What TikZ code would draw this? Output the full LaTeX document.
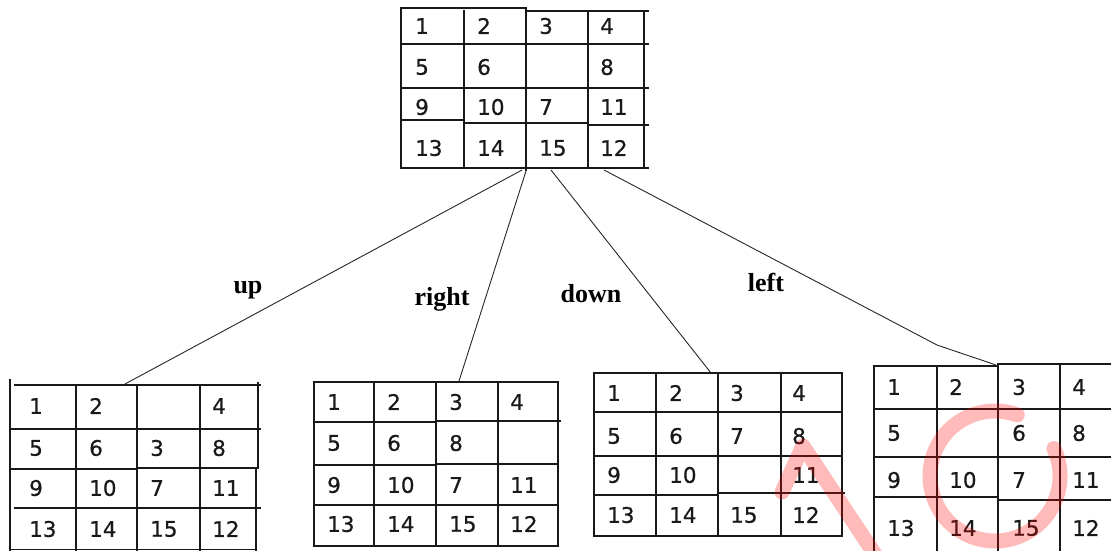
\documentclass[tikz,border=0pt]{standalone}
\usepackage{fontspec}
\newfontfamily\tilefont[FakeBold=0.7]{DejaVu Sans}
\newfontfamily\movefont{Liberation Serif}

% #1 board name, #2 text x per column, #3 row centres, #4 sixteen tiles (0 = blank)
\newcommand\puzzleboard[4]{%
  \foreach \t [count=\k from 0] in {#4} {
    \pgfmathtruncatemacro\c{mod(\k,4)}
    \pgfmathtruncatemacro\r{div(\k,4)}
    \pgfmathsetmacro\tx{{#2}[\c]}
    \pgfmathsetmacro\ty{{#3}[\r]}
    \ifnum\t>0 \node[tile] (#1-\k) at (\tx,\ty) {\t};\fi
  }}

\begin{document}
\begin{tikzpicture}[x=1pt,y=-1pt,
  gridline/.style={line width=1.9pt, black!90, line cap=rect},
  edge/.style={line width=0.9pt, black!85},
  tile/.style={anchor=west, inner sep=0pt, text=black!90,
               font=\tilefont\fontsize{21.5}{22}\selectfont},
  movelabel/.style={anchor=base, inner sep=0pt,
               font=\movefont\bfseries\fontsize{26}{26}\selectfont},
  stamp/.style={red, opacity=0.27, line width=15pt, line cap=round, line join=round}]
\useasboundingbox (0,0) rectangle (1111,550);

% ---- start state ----
\draw[gridline] (401,8) -- (526,8) (526,11) -- (648,11);
\draw[gridline] (401,8) -- (401,168) (464,11) -- (464,168) (526,8) -- (526,170)
                (588,11) -- (588,168) (644,11) -- (644,168);
\draw[gridline] (401,44) -- (648,44) (401,88) -- (648,88)
                (401,120) -- (464,120) (464,123) -- (586,123) (588,125) -- (648,125)
                (401,168) -- (648,168);
\puzzleboard{root}{415,477,539,600}{26,67,107,148}
  {1,2,3,4,5,6,0,8,9,10,7,11,13,14,15,12}

% ---- blank moved up ----
\draw[gridline] (10,380) -- (10,550) (76,385) -- (76,550) (137,385) -- (137,550)
                (200,385) -- (200,550) (258,383) -- (258,468) (256,468) -- (256,550);
\draw[gridline] (15,385) -- (260,385) (10,429) -- (260,429)
                (10,469) -- (137,469) (137,468) -- (258,468)
                (15,508) -- (260,508) (10,549.5) -- (256,549.5);
\puzzleboard{up}{29,89,150,212}{406,448,488,529}
  {1,2,0,4,5,6,3,8,9,10,7,11,13,14,15,12}

% ---- blank moved right ----
\draw[gridline] (314,382) -- (314,546) (374,382) -- (374,546) (436,382) -- (436,546)
                (498,382) -- (498,546) (558,382) -- (558,546);
\draw[gridline] (314,382) -- (558,382) (314,422) -- (436,422) (436,421) -- (560,421)
                (314,465) -- (436,465) (436,464) -- (558,464)
                (314,505) -- (558,505) (314,546) -- (558,546);
\puzzleboard{right}{327,387,449,510}{402,443,485,524}
  {1,2,3,4,5,6,8,0,9,10,7,11,13,14,15,12}

% ---- blank moved down ----
\draw[gridline] (594,373) -- (594,536) (656,373) -- (656,536) (718,373) -- (718,536)
                (781,373) -- (781,536) (842,373) -- (842,536);
\draw[gridline] (594,373) -- (842,373) (594,412) -- (842,412) (594,456) -- (842,456)
                (594,495) -- (718,495) (718,493) -- (844,493) (594,536) -- (842,536);
\puzzleboard{down}{607,669,730,792}{393,436,475,515}
  {1,2,3,4,5,6,7,8,9,10,0,11,13,14,15,12}

% ---- blank moved left ----
\draw[gridline] (874,366) -- (874,550) (937,366) -- (937,550) (998,364) -- (998,550)
                (1060,364) -- (1060,550);
\draw[gridline] (874,366) -- (998,366) (998,364) -- (1111,364)
                (874,409) -- (1111,409) (874,457) -- (1111,457)
                (874,497) -- (998,497) (998,500) -- (1111,500);
\puzzleboard{left}{887,949,1012,1072}{387,433,480,528}
  {1,2,3,4,5,0,6,8,9,10,7,11,13,14,15,12}

% ---- connectors ----
\coordinate (root-up)    at (522,170);
\coordinate (root-right) at (526,171);
\coordinate (root-down)  at (551,170);
\coordinate (root-left)  at (604,170);
\coordinate (up-top)     at (125,384);
\coordinate (right-top)  at (459,381);
\coordinate (down-top)   at (711,373);
\coordinate (left-bend)  at (937,345);
\coordinate (left-top)   at (996,365);
\draw[edge] (root-up) -- (up-top);
\draw[edge] (root-right) -- (right-top);
\draw[edge] (root-down) -- (down-top);
\draw[edge] (root-left) -- (left-bend) -- (left-top);

\node[movelabel] (lbl-up)    at (248,293) {up};
\node[movelabel] (lbl-right) at (442,305) {right};
\node[movelabel] (lbl-down)  at (591,302) {down};
\node[movelabel] (lbl-left)  at (766,291) {left};

% ---- stamp ----
\draw[stamp] (782,492) -- (803,446) -- (876,556);
\draw[stamp] ([shift={(-25:65)}]995,476) arc[start angle=-25, end angle=290, radius=65];
\end{tikzpicture}
\end{document}
